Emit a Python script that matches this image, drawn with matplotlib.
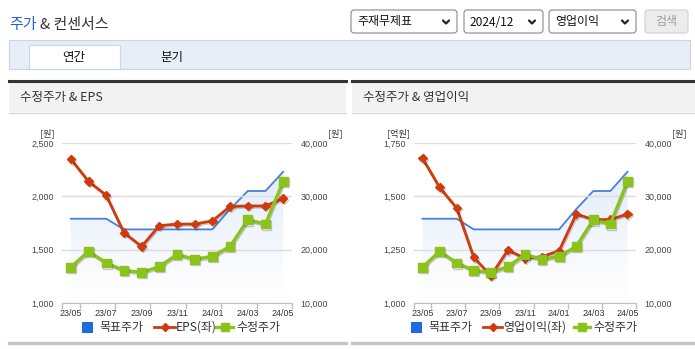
import numpy as np
import matplotlib
matplotlib.use("Agg")
import matplotlib.pyplot as plt
import matplotlib.patheffects as pe
from matplotlib.patches import Rectangle, FancyBboxPatch

plt.rcParams['font.family'] = ['Noto Sans CJK KR', 'DejaVu Sans']

# 월별 데이터 (23/05 ~ 24/05)
months = ["23/05", "23/06", "23/07", "23/08", "23/09", "23/10", "23/11",
          "23/12", "24/01", "24/02", "24/03", "24/04", "24/05"]
eps = [2350, 2140, 2010, 1660, 1530, 1725, 1740, 1740, 1770, 1905, 1910, 1910, 1980]
op_profit = [1678, 1542, 1445, 1214, 1128, 1248, 1209, 1217, 1245, 1417, 1391, 1391, 1417]
price = [16700, 19700, 17500, 16100, 15750, 16800, 19100, 18200, 18750, 20600, 25600, 24800, 32800]
target = [25800, 25800, 25800, 23800, 23800, 23800, 23800, 23800, 23800, 27600, 31000, 31000, 34600]

eps_ticks = [1000, 1500, 2000, 2500]
op_ticks = [1000, 1250, 1500, 1750]
price_ticks = [10000, 20000, 30000, 40000]

RED = '#cf3b0c'
GREEN = '#8cc21c'
BLUE = '#4a7fd8'
AXC = '#b4c2d6'
TXT = '#333333'

W, H = 695, 349
fig = plt.figure(figsize=(W / 100, H / 100), dpi=100)
bg = fig.add_axes([0, 0, 1, 1])
bg.set_xlim(0, W)
bg.set_ylim(H, 0)
bg.axis('off')


def box(x0, y0, x1, y1, **kw):
    bg.add_patch(Rectangle((x0, y0), x1 - x0, y1 - y0, **kw))


def chevron(cx, cy):
    bg.plot([cx - 3, cx, cx + 3], [cy - 1.5, cy + 1.5, cy - 1.5], color='#222', lw=1.6,
            solid_capstyle='round')


# 상단 제목과 선택 상자
bg.text(9, 25, '주가', color='#2563d4', fontsize=10.8, va='center')
bg.text(40, 25, '& 컨센서스', color=TXT, fontsize=10.8, va='center')

for (x0, x1, label) in [(351, 457, '주재무제표'), (464, 543, '2024/12'), (549, 636, '영업이익')]:
    bg.add_patch(FancyBboxPatch((x0, 10), x1 - x0, 23, boxstyle='round,pad=0,rounding_size=3',
                                fc='white', ec='#8a8a8a', lw=0.8))
    bg.text(x0 + 6, 22, label, fontsize=8.6, color='#111', va='center')
    chevron(x1 - 11, 22)
bg.add_patch(FancyBboxPatch((645, 10), 43, 23, boxstyle='round,pad=0,rounding_size=3',
                            fc='#ececec', ec='#d0d0d0', lw=0.8))
bg.text(666.5, 22, '검색', fontsize=8.6, color='#9a9a9a', va='center', ha='center')

# 탭
box(9, 40, 690, 69, fc='#e8eef8', ec='#cbd5e4', lw=0.8)
box(29, 45, 120, 69, fc='white', ec='#cbd5e4', lw=0.8)
bg.text(74, 57, '연간', fontsize=9, color='#111', va='center', ha='center')
bg.text(172, 57, '분기', fontsize=9, color='#111', va='center', ha='center')


def panel(px0, px1, title, ax_x0, ax_x1, bar_vals, bar_ticks, bar_unit, bar_name, leg):
    # 패널 머리글
    box(px0, 82, px1, 112, fc='#f2f2f2', lw=0)
    bg.plot([px0, px1], [81, 81], color='#333', lw=2.2)
    bg.plot([px0, px1], [112.5, 112.5], color='#d8d8d8', lw=1)
    bg.plot([px0, px1], [343, 343], color='#c6c6c6', lw=2.4)
    bg.text(px0 + 11, 97, title, fontsize=9, color=TXT, va='center')

    rect = [ax_x0 / W, 1 - 303 / H, (ax_x1 - ax_x0) / W, 160 / H]
    ax = fig.add_axes(rect)
    ax_bg = ax.twinx()
    ax_fg = ax.twinx()
    ax_bg.set_zorder(1)
    ax.set_zorder(2)
    ax_fg.set_zorder(3)
    for a in (ax, ax_bg, ax_fg):
        a.patch.set_visible(False)
        for s in a.spines.values():
            s.set_visible(False)

    x = np.arange(len(months)) + 0.5

    # 목표주가 영역 (그라데이션)
    ax_bg.set_ylim(price_ticks[0], price_ticks[-1])
    poly = ax_bg.fill_between(x, target, price_ticks[0], facecolor='none', lw=0)
    grad = np.zeros((256, 1, 4))
    grad[:, 0, :3] = matplotlib.colors.to_rgb('#d9e6f8')
    grad[:, 0, 3] = np.linspace(0.0, 1.0, 256) ** 1.2
    im = ax_bg.imshow(grad, extent=[0, 13, price_ticks[0], price_ticks[-1]], origin='lower',
                      aspect='auto', interpolation='bilinear')
    im.set_clip_path(poly.get_paths()[0], transform=ax_bg.transData)
    ax_bg.plot(x, target, color=BLUE, lw=1.3)
    ax_bg.set_ylim(price_ticks[0], price_ticks[-1])
    ax_bg.set_yticks([])

    shadow = [pe.SimpleLineShadow(offset=(0.7, -1.0), alpha=0.2), pe.Normal()]

    # 좌측 축 (EPS / 영업이익)
    ax.plot(x, bar_vals, color=RED, lw=2, marker='D', ms=4.2, path_effects=shadow)
    ax.set_xlim(0, 13)
    ax.set_ylim(bar_ticks[0], bar_ticks[-1])
    ax.set_yticks(bar_ticks)
    ax.set_yticklabels([f'{v:,}' for v in bar_ticks])
    ax.grid(axis='y', color='#dcdcdc', lw=1)
    ax.spines['bottom'].set_visible(True)
    ax.spines['bottom'].set_color(AXC)
    ax.tick_params(axis='y', length=0, pad=6, labelsize=6.4, labelcolor='#444',
                   labelfontfamily='Liberation Sans')
    ax.set_xticks(x[::2])
    ax.set_xticklabels(months[::2])
    ax.set_xticks([0, 1, 3, 5, 7, 9, 11, 13], minor=True)
    ax.tick_params(axis='x', which='major', length=0, pad=4, labelsize=6.4, labelcolor='#333',
                   labelfontfamily='Liberation Sans')
    ax.tick_params(axis='x', which='minor', length=4, color=AXC, width=1)

    # 우측 축 (수정주가)
    ax_fg.plot(x, price, color=GREEN, lw=2.4, marker='s', ms=6.3, path_effects=shadow)
    ax_fg.set_ylim(price_ticks[0], price_ticks[-1])
    ax_fg.set_yticks(price_ticks)
    ax_fg.set_yticklabels([f'{v:,}' for v in price_ticks])
    ax_fg.tick_params(axis='y', length=0, pad=6, labelsize=6.4, labelcolor='#444',
                      labelfontfamily='Liberation Sans')

    # 단위
    bg.text(ax_x0 - 15, 133, bar_unit, fontsize=6.6, color=TXT, ha='center', va='center')
    bg.text(ax_x1 + 43, 133, '[원]', fontsize=6.6, color=TXT, ha='center', va='center')

    # 범례
    sq0, r0, r1, g0, g1 = leg
    box(sq0, 322, sq0 + 11, 333, fc='#1f6ae0', lw=0)
    bg.text(sq0 + 17, 327.5, '목표주가', fontsize=8.6, color=TXT, va='center')
    bg.plot([r0, r1], [327, 327], color=RED, lw=2)
    bg.plot([(r0 + r1) / 2], [327], marker='D', ms=4.2, color=RED)
    bg.text(r1 + 1, 327.5, bar_name, fontsize=8.6, color=TXT, va='center')
    bg.plot([g0, g1], [327, 327], color=GREEN, lw=2.4)
    bg.plot([(g0 + g1) / 2], [327], marker='s', ms=6, color=GREEN)
    bg.text(g1 + 3, 327.5, '수정주가', fontsize=8.6, color=TXT, va='center')


panel(9, 346, '수정주가 & EPS', 62, 292, eps, eps_ticks, '[원]', 'EPS(좌)',
      (82, 154, 175, 216, 233))
panel(352, 695, '수정주가 & 영업이익', 414, 636, op_profit, op_ticks, '[억원]', '영업이익(좌)',
      (411, 483, 502, 574, 590))

fig.savefig('out.png', dpi=100)
